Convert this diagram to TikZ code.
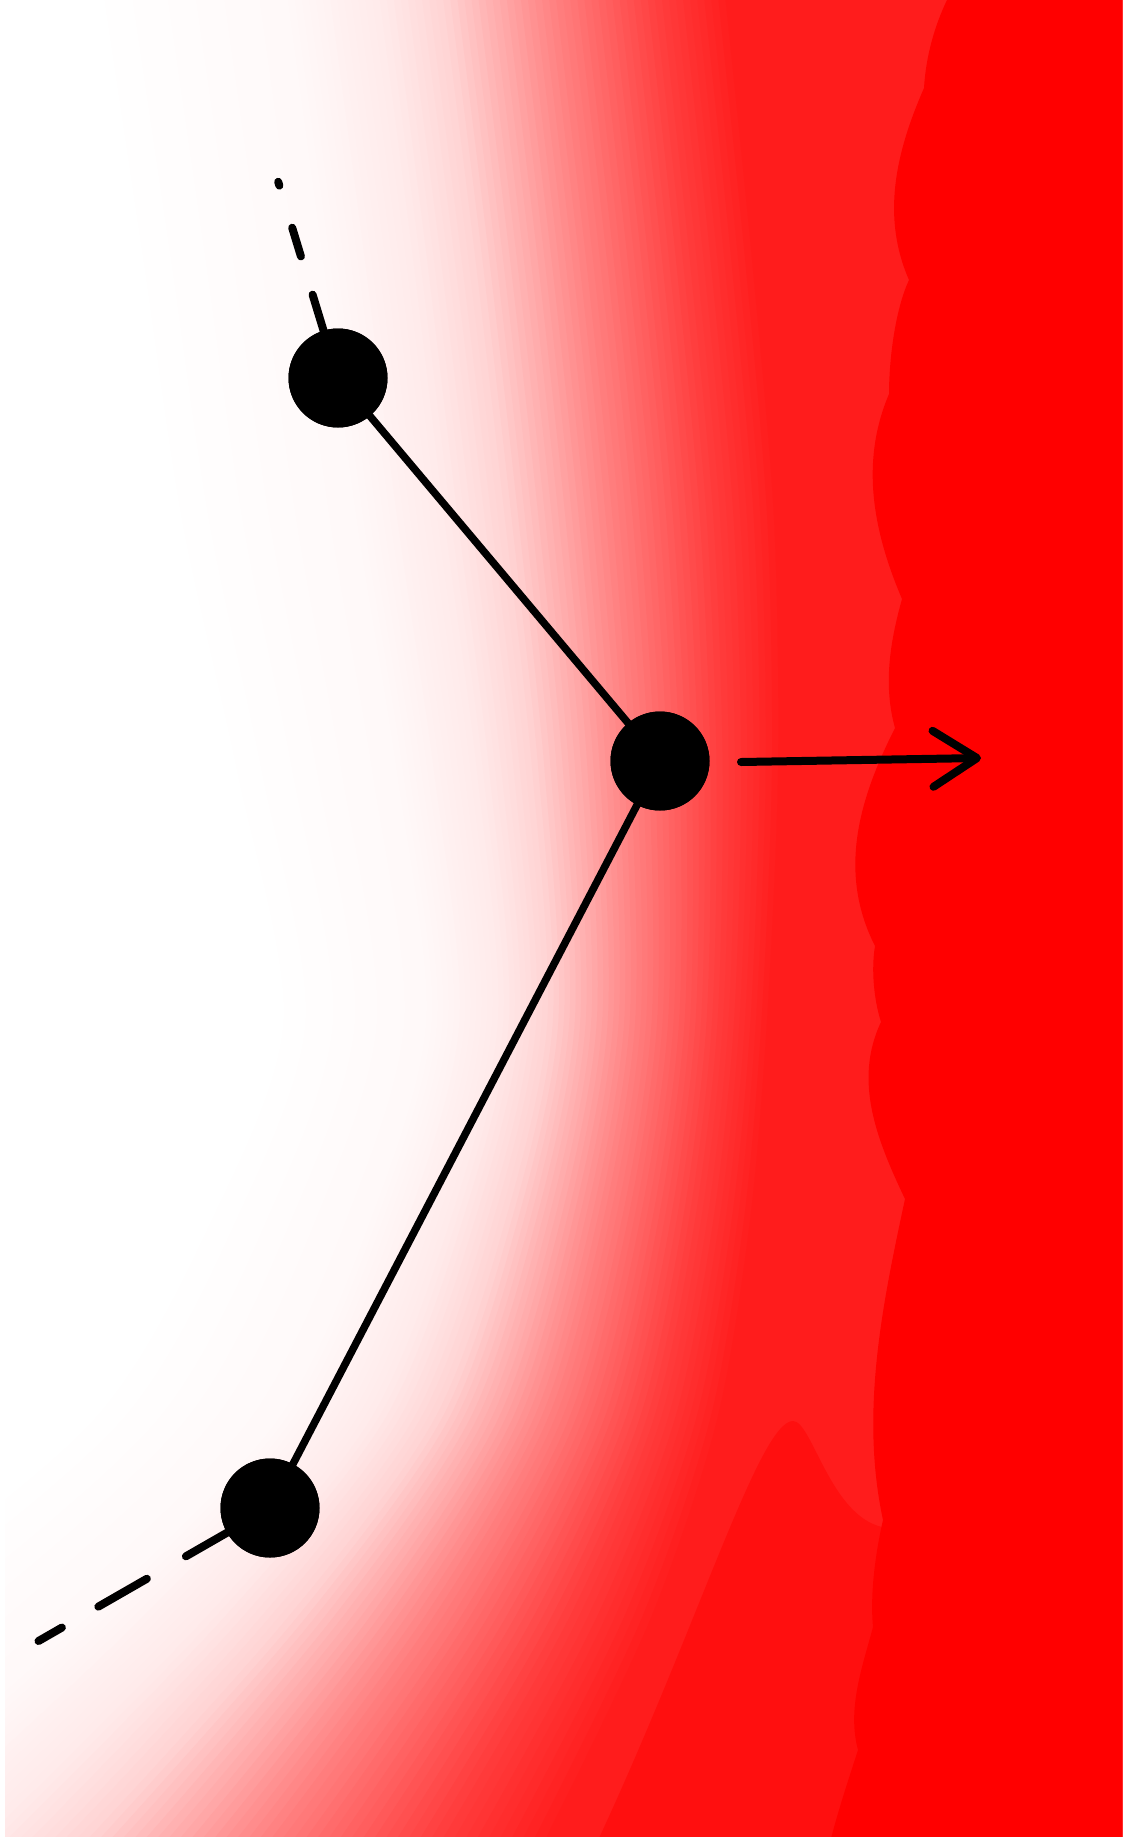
\documentclass[tikz,border=0pt]{standalone}
\usetikzlibrary{arrows.meta,calc}
\begin{document}
\begin{tikzpicture}[x=1pt,y=-1pt,
  dot/.style={circle,fill=black,draw=none,minimum size=99pt,inner sep=0pt},
  bond/.style={line width=7.5pt,line cap=round,draw=black},
  dashbond/.style={line width=8pt,line cap=round,draw=black},
  force/.style={line width=8pt,line cap=round,line join=round,draw=black,-{Straight Barb[length=44pt,width=56pt,round]}}]
\useasboundingbox (0,0) rectangle (1122,1845);
\fill[white] (0,0) rectangle (1122,1845);
\begin{scope}
\clip (5,0) rectangle (1122,1836);
\foreach \k in {1,...,90}{
  \pgfmathsetmacro\s{\k/90}
  \pgfmathsetmacro\tt{100*(0.0833*min(\s,0.3)+0.3667*max(0,min(\s,0.45)-0.3)+0.9*max(0,min(\s,0.55)-0.45)+1.875*max(0,min(\s,0.71)-0.55)+1.6111*max(0,min(\s,0.89)-0.71)+1.1818*max(0,\s-0.89))}
  \fill[red!\tt!white] plot[smooth] coordinates {
    ({90+\s*(725-90)},-5) ({130+\s*(752-130)},260) ({169+\s*(774-169)},520)
    ({225+\s*(778-225)},770) ({273+\s*(767-273)},1020) ({200+\s*(750-200)},1220)
    ({80+\s*(717-80)},1420) ({-170+\s*(650+170)},1620) ({-500+\s*(540+500)},1850)}
    -- (1130,1850) -- (1130,-5) -- cycle;
}
% darker band at the bottom
\fill[red!94!white] (595,1850) -- (600,1836)
  .. controls (700,1620) and (760,1421) .. (793,1421)
  .. controls (812,1421) and (830,1515) .. (882,1527)
  -- (1000,1527) -- (1000,1850) -- cycle;
% pure red region
\fill[red] (952,-5) -- (947,0)
  .. controls (935,25) and (926,55) .. (924,88)
  .. controls (896,152) and (881,216) .. (909,280)
  .. controls (895,310) and (889,360) .. (889,394)
  .. controls (860,462) and (873,531) .. (902,599)
  .. controls (890,642) and (883,685) .. (895,728)
  .. controls (858,801) and (838,873) .. (875,946)
  .. controls (871,970) and (874,1000) .. (881,1022)
  .. controls (853,1081) and (877,1140) .. (905,1199)
  .. controls (882,1306) and (860,1413) .. (883,1520)
  .. controls (875,1555) and (870,1595) .. (873,1627)
  .. controls (862,1668) and (847,1709) .. (858,1750)
  .. controls (850,1775) and (838,1810) .. (828,1850)
  -- (1130,1850) -- (1130,-5) -- cycle;
\end{scope}
% particles
\node[dot] (A) at (338,378) {};
\node[dot] (B) at (660,761) {};
\node[dot] (C) at (270,1508) {};
\coordinate (a0) at (278.2,181.8);
\coordinate (c0) at (38.5,1641);
\coordinate (f0) at (741,762);
\coordinate (f1) at (981,758);
\draw[bond] (A.center) -- (B.center);
\draw[bond] (B.center) -- (C.center);
\draw[dashbond, dash pattern=on 4pt off 44pt on 30pt off 40pt on 400pt] (a0) -- (A.center);
\draw[dashbond, dash pattern=on 27pt off 42pt on 56pt off 45pt on 400pt] (c0) -- (C.center);
\node[dot] at (A) {};
\node[dot] at (B) {};
\node[dot] at (C) {};
\draw[force] (f0) -- (f1);
\end{tikzpicture}
\end{document}
